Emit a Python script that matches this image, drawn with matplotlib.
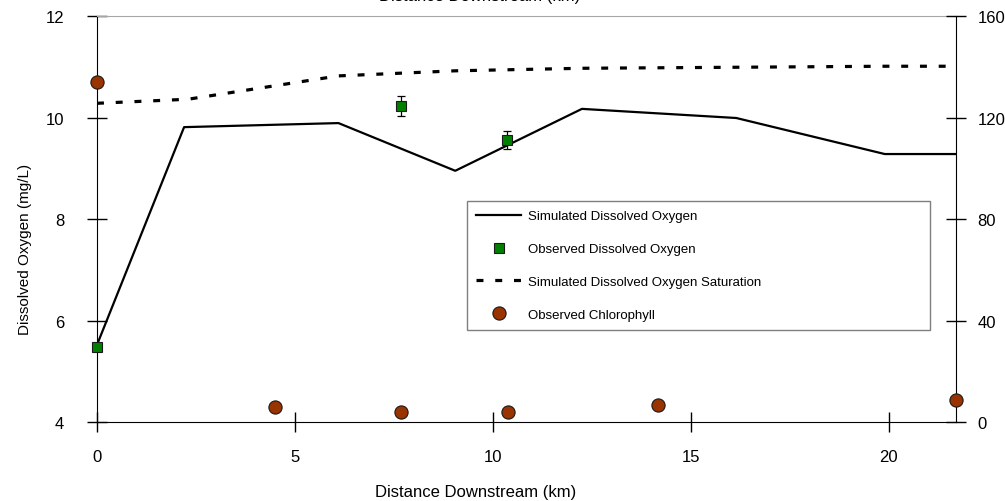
import matplotlib
matplotlib.use("Agg")
import matplotlib.pyplot as plt

plt.rcParams['font.family'] = ['Liberation Sans', 'DejaVu Sans']
plt.rcParams['lines.scale_dashes'] = False

# Data
sim_do_x = [0.0, 2.2, 6.1, 9.05, 12.25, 16.15, 19.9, 21.7]
sim_do_y = [5.52, 9.81, 9.89, 8.95, 10.17, 9.99, 9.28, 9.28]

sat_x = [0.0, 2.3, 6.1, 9.05, 12.25, 16.15, 19.9, 21.7]
sat_y = [10.28, 10.36, 10.82, 10.92, 10.97, 10.99, 11.01, 11.01]

obs_do_x = [0.0, 7.67, 10.37]
obs_do_y = [5.48, 10.23, 9.56]
obs_do_err = [0.08, 0.20, 0.18]

chl_x = [0.0, 4.49, 7.68, 10.38, 14.17, 21.7]
chl_y = [134.0, 5.9, 3.8, 3.8, 6.7, 8.8]

x_ticks = [0, 5, 10, 15, 20]
do_ticks = [4, 6, 8, 10, 12]
chl_ticks = [0, 40, 80, 120, 160]

W, H = 1005, 502
fig = plt.figure(figsize=(W / 100, H / 100), dpi=100)
x0, x1, ytop, ybot = 97, 956, 17, 423
ax = fig.add_axes([x0 / W, 1 - ybot / H, (x1 - x0) / W, (ybot - ytop) / H])

ax.set_xlim(0, 21.7)
ax.set_ylim(4, 12)
ax.set_xticks(x_ticks)
ax.set_yticks(do_ticks)
ax.tick_params(direction='inout', length=15, width=1, labelsize=12)
ax.tick_params(axis='y', pad=16)
ax.tick_params(axis='x', pad=12)
ax.spines['top'].set_color('#a6a6a6')
ax.spines['right'].set_visible(False)
for s in ['left', 'bottom']:
    ax.spines[s].set_color('black')

l_sim, = ax.plot(sim_do_x, sim_do_y, color='black', lw=1.6, zorder=3,
                 label='Simulated Dissolved Oxygen')
l_sat, = ax.plot(sat_x, sat_y, color='black', lw=2.3, dashes=(5, 8.5), zorder=3,
                 label='Simulated Dissolved Oxygen Saturation')
ax.errorbar(obs_do_x, obs_do_y, yerr=obs_do_err, fmt='none', ecolor='black',
            elinewidth=0.9, capsize=3, capthick=0.9, zorder=4, clip_on=False)
l_obs, = ax.plot(obs_do_x, obs_do_y, ls='none', marker='s', ms=7.5,
                 mfc='#008000', mec='#1a1a1a', mew=0.8, zorder=5, clip_on=False,
                 label='Observed Dissolved Oxygen')

ax2 = ax.twinx()
ax2.set_ylim(0, 160)
ax2.set_yticks(chl_ticks)
ax2.tick_params(direction='inout', length=15, width=1, labelsize=12, pad=8)
for s in ['top', 'left', 'bottom']:
    ax2.spines[s].set_visible(False)
ax2.spines['right'].set_color('black')
l_chl, = ax2.plot(chl_x, chl_y, ls='none', marker='o', ms=9.5,
                  mfc='#993300', mec='#1a1a1a', mew=0.8, zorder=5, clip_on=False,
                  label='Observed Chlorophyll')

lx0 = (467 - x0) / (x1 - x0)
lx1 = (930 - x0) / (x1 - x0)
ly1 = (ybot - 202) / (ybot - ytop)
leg = ax2.legend(handles=[l_sim, l_obs, l_sat, l_chl],
                 bbox_to_anchor=(lx0, 0.0, lx1 - lx0, ly1), loc='upper left',
                 mode='expand', fontsize=9.5, frameon=True, fancybox=False,
                 edgecolor='#7f7f7f', framealpha=1, borderpad=0.7,
                 labelspacing=1.55, handlelength=3.4, handletextpad=0.5,
                 borderaxespad=0.0)
leg.get_frame().set_linewidth(1.0)

fig.text(476 / W, 1 - 493 / H, 'Distance Downstream (km)', ha='center',
         va='center', fontsize=12)
fig.text(480 / W, 1 + 3 / H, 'Distance Downstream (km)', ha='center',
         va='center', fontsize=12)
fig.text(25 / W, 1 - 249 / H, 'Dissolved Oxygen (mg/L)', ha='center',
         va='center', rotation=90, fontsize=11)

fig.savefig('out.png', dpi=100)
